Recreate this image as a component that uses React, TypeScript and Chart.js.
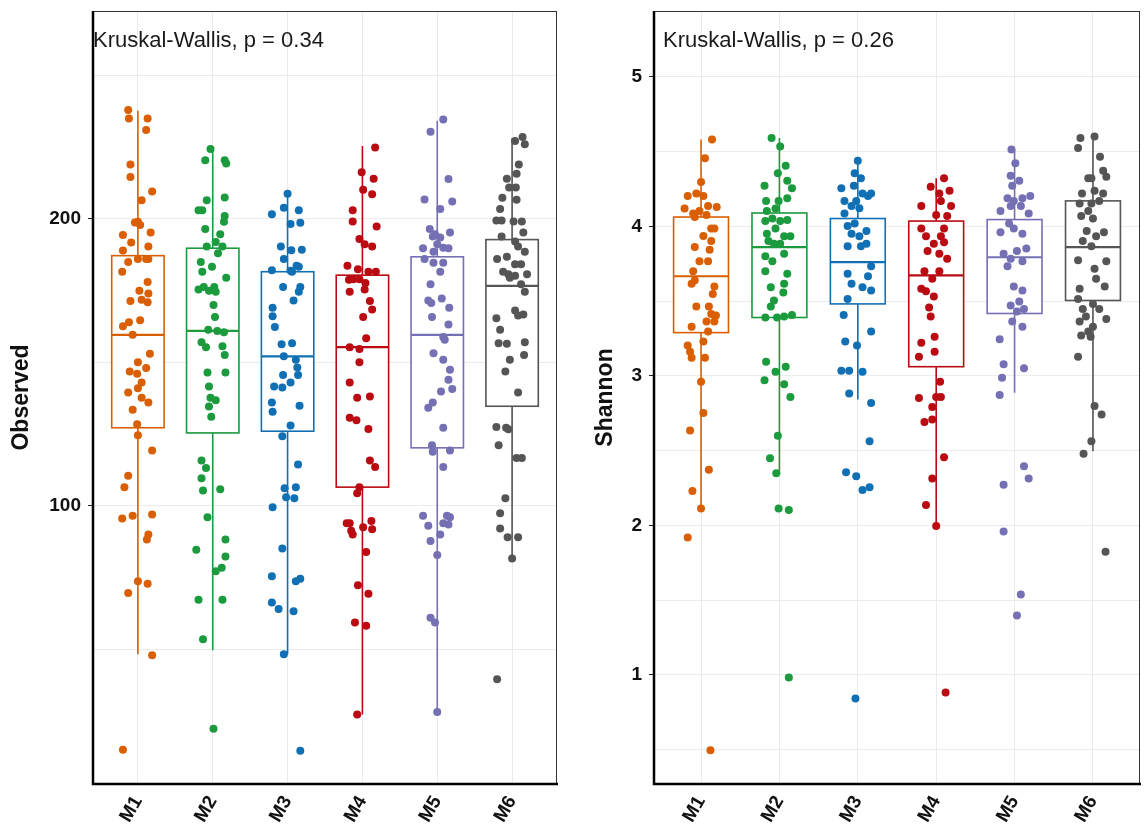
import React, { useEffect, useRef } from 'react';
import { Chart, registerables } from 'chart.js';

Chart.register(...registerables);

// ---------------- shared ----------------
const CATEGORIES = ['M1', 'M2', 'M3', 'M4', 'M5', 'M6'];
const COLORS = ['#D95F02', '#1B9A3E', '#1170B4', '#BA0A12', '#7570B3', '#555555'];

// ---------------- Observed panel ----------------
const OBS_TEST_LABEL = 'Kruskal-Wallis, p = 0.34';
const OBS_GRID_VALUES = [50, 100, 150, 200, 250];
const OBS_TICK_LABELS = [100, 200];

const OBS_M1 = [238, 235, 235, 231, 219, 214.6, 209.6, 206.5, 199, 198.8, 197.9, 194.4, 191.8, 195.3, 189, 190.4, 185, 181.6, 186, 186, 186, 178, 175, 171.4, 174, 171.8, 171, 162.6, 164, 164.7, 159.6, 153, 150, 146.8, 146, 148, 143, 139.5, 141, 137.7, 136, 133.5, 128.4, 124.6, 119.3, 110.5, 106.5, 95.6, 96.5, 97, 90, 88.2, 69.6, 73.7, 72.8, 47.9, 14.9];
const OBS_M1_JIT = [-0.13, -0.12, 0.13, 0.11, -0.10, -0.10, 0.19, 0.05, 0, -0.04, 0.03, -0.20, -0.09, 0.17, -0.20, 0.14, -0.13, -0.21, 0.11, 0.14, 0, 0.13, 0.02, -0.10, 0.14, 0.05, 0.13, -0.20, -0.12, 0.03, -0.07, 0.16, 0, -0.11, -0.01, 0.11, 0.05, -0.13, 0, 0.05, 0.14, -0.07, -0.01, 0, 0.19, -0.13, -0.18, -0.21, -0.07, 0.19, 0.14, 0.12, -0.13, 0, 0.13, 0.19, -0.20];
const OBS_M2 = [224.4, 220.5, 220.5, 219.3, 206.5, 207.5, 203, 203, 201, 199, 196.5, 194.7, 192, 190.4, 188, 190.4, 185, 183.3, 179.5, 181.6, 176.3, 175.4, 175, 176.3, 174.6, 170, 165.8, 161.4, 160.9, 160.5, 157, 155.3, 155.6, 152.6, 146.5, 146.5, 141.6, 137.7, 136.8, 134.6, 131, 115.8, 113.2, 109.6, 105.3, 105.8, 96, 88.2, 84.7, 82.3, 77.2, 78.4, 67.2, 67.2, 53.5, 22.3];
const OBS_M2_JIT = [-0.03, 0.16, -0.10, 0.18, -0.08, 0.16, -0.19, -0.14, 0.16, 0.15, -0.10, 0.10, 0.04, 0.13, 0.07, -0.08, -0.16, -0.01, 0.18, -0.14, -0.12, -0.19, -0.05, 0.02, 0.04, 0.01, 0.03, -0.06, 0.06, 0.15, -0.15, -0.09, 0.13, 0.16, -0.07, 0.17, -0.05, -0.03, 0.04, -0.05, -0.02, -0.15, -0.09, -0.15, -0.13, 0.10, -0.07, 0.17, -0.22, 0.17, 0.04, 0.12, -0.19, 0.13, -0.13, 0.01];
const OBS_M3 = [208.8, 203.9, 203, 201.6, 198.2, 198.7, 190.4, 189.1, 189.3, 186, 183.7, 181.6, 183.3, 182.1, 181.9, 176.3, 176.3, 174.6, 171.6, 169, 166.1, 162.3, 156.3, 156.7, 152.1, 150.9, 148.2, 145.6, 145.6, 141.6, 141.2, 143, 136, 132.8, 134.9, 128, 124.2, 114.4, 106.1, 106.5, 103, 102.6, 99.5, 85.1, 75.4, 74.6, 73.7, 66.3, 64, 63.2, 48.2, 14.6];
const OBS_M3_JIT = [0, -0.05, 0.15, -0.21, 0.04, 0.17, -0.09, 0.05, 0.19, -0.05, 0.12, 0.06, 0.15, -0.21, 0.04, -0.06, 0.17, 0.15, 0.08, -0.20, -0.20, -0.17, -0.08, 0.06, -0.05, 0.11, 0.13, 0.14, -0.06, -0.18, -0.07, 0.04, -0.21, -0.20, 0.16, 0.04, -0.07, 0.14, -0.04, 0.11, -0.02, 0.09, -0.20, -0.07, -0.21, 0.17, 0.11, -0.21, -0.12, 0.08, -0.05, 0.17];
const OBS_M4 = [224.9, 216.3, 214, 210.2, 208.6, 203, 199.1, 197.4, 193, 191.2, 190.4, 183.7, 182.5, 181.6, 181.6, 178.8, 179, 179, 177.7, 174.6, 175.4, 171.4, 168.4, 165.8, 158.4, 155.3, 154.7, 150, 143, 137.7, 138.1, 130.7, 129.8, 126.8, 115.8, 113.5, 106.5, 104.4, 93.9, 92.5, 91.8, 93.9, 91.3, 90, 94.7, 83.9, 72.3, 69.3, 59.3, 58.2, 27.2];
const OBS_M4_JIT = [0.17, -0.01, 0.15, 0.01, 0.13, -0.13, -0.13, 0.19, -0.04, 0.03, 0.13, -0.20, -0.06, 0.08, 0.18, -0.18, -0.12, -0.04, 0.04, -0.17, 0.03, 0.10, 0.13, 0.01, 0.05, -0.17, -0.04, -0.04, -0.17, -0.07, 0.10, -0.17, -0.08, 0.08, 0.10, 0.17, -0.04, -0.07, -0.17, 0.01, 0.13, -0.21, -0.15, -0.13, 0.12, 0.05, -0.06, 0.08, -0.10, 0.05, -0.07];
const OBS_M5 = [234.7, 230.4, 213.9, 206.8, 206.1, 203.5, 196.5, 194.7, 193.9, 195.3, 193.5, 191.2, 189.8, 190, 189.8, 188.6, 186, 184.7, 184.7, 181.6, 177.2, 171.6, 172.3, 170.7, 169, 165.8, 163.2, 158.8, 157.9, 153.2, 150.9, 147.4, 143.9, 140.7, 139.8, 136, 134.2, 127.2, 121.1, 118.8, 119.3, 113.5, 96.5, 96.5, 96, 93, 93.9, 93.5, 90, 87.7, 82.8, 61, 59.3, 28.1];
const OBS_M5_JIT = [0.08, -0.09, 0.15, -0.17, 0.20, 0.04, -0.10, -0.03, -0.06, 0.17, 0.04, 0, -0.19, 0.08, 0.15, -0.05, -0.17, -0.05, 0.08, 0.04, -0.09, -0.12, 0.06, -0.08, 0.16, -0.07, 0.15, 0.08, 0.10, -0.05, 0.08, 0.17, 0.15, 0.20, 0.05, -0.06, -0.12, 0.08, -0.07, -0.06, 0.17, 0.08, -0.19, 0.13, 0.17, -0.12, 0.08, 0.15, 0.04, -0.09, 0, -0.09, -0.03, 0];
const OBS_M6 = [227.2, 228.6, 226, 219, 215.8, 214, 211, 211, 207.4, 206.7, 203.5, 199.5, 199.5, 199.1, 199.1, 193.9, 192.1, 195.3, 190.4, 188.6, 186, 186.8, 181.6, 184.2, 184.2, 180.7, 180.2, 179.5, 180.7, 177.2, 174.6, 165.4, 161.4, 168.1, 166.3, 166.7, 156.7, 156.5, 157, 152.6, 150.9, 146.8, 139.5, 127.5, 127.2, 121.1, 126.7, 116.7, 116.7, 102.6, 97.4, 92.1, 89, 89, 81.6, 39.5];
const OBS_M6_JIT = [0.04, 0.14, 0.17, 0.09, 0.06, -0.07, -0.04, 0.05, -0.13, 0.06, -0.16, -0.21, -0.14, 0.02, 0.13, -0.14, 0.04, 0.15, 0.08, 0.17, -0.20, -0.07, -0.12, 0.04, 0.12, -0.05, 0.04, -0.03, 0.20, 0.12, 0.17, -0.21, -0.16, 0.04, 0.08, 0.15, -0.18, -0.07, 0.17, 0.16, -0.03, -0.09, 0.08, -0.21, -0.08, -0.18, -0.05, 0.06, 0.13, -0.09, -0.16, -0.16, -0.06, 0.08, 0, -0.20];

// box statistics (whisker low, Q1, median, Q3, whisker high) per category
const OBS_WHISKER_LOW = [48.2, 49.6, 48.2, 27.2, 28.1, 81.6];
const OBS_Q1 = [127.2, 125.4, 126, 106.5, 120.2, 134.7];
const OBS_MEDIAN = [159.6, 161, 152.1, 155.3, 159.6, 176.7];
const OBS_Q3 = [187.2, 189.8, 181.6, 180.4, 186.8, 192.8];
const OBS_WHISKER_HIGH = [237.7, 223.7, 208.8, 225.4, 234.2, 228.1];

// ---------------- Shannon panel ----------------
const SHA_TEST_LABEL = 'Kruskal-Wallis, p = 0.26';
const SHA_GRID_VALUES = [0.5, 1, 1.5, 2, 2.5, 3, 3.5, 4, 4.5, 5];
const SHA_TICK_LABELS = [1, 2, 3, 4, 5];

const SHA_M1 = [4.58, 4.455, 4.297, 4.203, 4.22, 4.203, 4.119, 4.086, 4.103, 4.136, 4.129, 4.062, 4.076, 3.985, 3.985, 3.935, 3.901, 3.861, 3.844, 3.766, 3.766, 3.699, 3.639, 3.615, 3.598, 3.548, 3.464, 3.464, 3.413, 3.403, 3.329, 3.363, 3.363, 3.296, 3.229, 3.202, 3.161, 3.121, 3.121, 2.96, 2.751, 2.634, 2.371, 2.23, 2.113, 1.918, 0.496];
const SHA_M1_JIT = [0.14, 0.05, 0, -0.17, -0.06, 0.03, -0.21, -0.10, -0.02, 0.09, 0.20, -0.08, 0.07, 0.13, 0.17, 0.03, 0.13, -0.08, 0.11, -0.02, 0.09, -0.10, -0.08, -0.12, 0.17, 0.15, -0.06, 0.10, 0.13, 0.19, -0.12, 0.07, 0.17, 0.09, 0.03, -0.17, -0.14, -0.12, 0.05, 0, 0.03, -0.14, 0.10, -0.11, 0, -0.17, 0.12];
const SHA_M2 = [4.59, 4.533, 4.405, 4.355, 4.271, 4.304, 4.254, 4.17, 4.17, 4.187, 4.103, 4.119, 4.035, 4.052, 4.035, 4.042, 3.985, 3.951, 3.934, 3.934, 3.901, 3.884, 3.884, 3.8, 3.766, 3.817, 3.699, 3.682, 3.615, 3.592, 3.558, 3.504, 3.464, 3.39, 3.39, 3.397, 3.407, 3.094, 3.027, 3.061, 2.97, 2.943, 2.859, 2.6, 2.449, 2.348, 2.113, 2.103, 0.983];
const SHA_M2_JIT = [-0.10, 0.01, 0.08, -0.02, -0.19, 0.10, 0.16, -0.17, -0.01, 0.10, -0.16, -0.05, -0.18, -0.09, 0.01, 0.10, -0.05, -0.16, 0.06, 0.14, -0.14, -0.07, 0.01, -0.18, -0.09, 0.06, -0.18, 0.10, 0.06, -0.11, 0.05, -0.07, -0.11, -0.18, -0.03, 0.06, 0.16, -0.17, -0.05, 0.08, -0.19, 0.06, 0.14, -0.02, -0.12, -0.04, -0.01, 0.12, 0.12];
const SHA_M3 = [4.439, 4.355, 4.321, 4.254, 4.271, 4.22, 4.22, 4.17, 4.17, 4.203, 4.136, 4.086, 4.12, 4.018, 4.002, 3.968, 3.934, 3.951, 3.867, 3.867, 3.884, 3.733, 3.682, 3.666, 3.615, 3.592, 3.571, 3.514, 3.407, 3.296, 3.229, 3.202, 3.034, 3.034, 3.027, 2.882, 2.818, 2.563, 2.355, 2.328, 2.237, 2.254, 0.842];
const SHA_M3_JIT = [0, -0.04, 0.04, -0.21, -0.05, 0.06, 0.17, -0.17, -0.02, 0.13, -0.08, -0.17, 0.02, -0.04, -0.13, 0.11, 0.02, -0.08, -0.13, 0.04, 0.11, 0.17, -0.13, 0.13, -0.08, 0.06, 0.17, -0.13, -0.18, 0.17, -0.16, -0.01, -0.21, -0.11, 0.06, -0.11, 0.17, 0.15, -0.15, -0.02, 0.06, 0.15, -0.03];
const SHA_M4 = [4.321, 4.264, 4.22, 4.237, 4.17, 4.136, 4.136, 4.076, 4.069, 3.985, 3.985, 3.934, 3.934, 3.884, 3.894, 3.834, 3.817, 3.783, 3.699, 3.699, 3.649, 3.582, 3.565, 3.531, 3.457, 3.397, 3.222, 3.128, 3.262, 3.161, 2.96, 2.859, 2.859, 2.852, 2.792, 2.708, 2.691, 2.455, 2.314, 2.136, 1.995, 0.882];
const SHA_M4_JIT = [0.10, -0.07, 0.04, 0.17, 0.06, 0.19, -0.19, 0, 0.14, -0.19, 0.10, -0.13, 0.06, -0.03, 0.10, -0.11, 0.04, 0.14, 0.04, -0.15, -0.05, -0.19, -0.13, -0.03, -0.09, -0.07, -0.19, -0.22, -0.02, -0.02, 0.05, 0, 0.06, -0.22, -0.05, -0.05, -0.15, 0.10, -0.05, -0.13, 0, 0.12];
const SHA_M5 = [4.513, 4.422, 4.338, 4.304, 4.271, 4.187, 4.187, 4.17, 4.203, 4.103, 4.136, 4.136, 4.086, 4.018, 3.985, 3.951, 3.961, 3.851, 3.817, 3.783, 3.834, 3.766, 3.733, 3.598, 3.571, 3.497, 3.47, 3.43, 3.447, 3.363, 3.329, 3.245, 3.077, 3.05, 2.987, 2.872, 2.395, 2.271, 2.314, 1.958, 1.538, 1.397];
const SHA_M5_JIT = [-0.04, 0.01, -0.05, 0.06, -0.03, -0.09, 0.10, -0.01, 0.20, -0.18, -0.05, 0.08, 0.18, -0.07, -0.01, 0.10, -0.18, 0.15, -0.14, -0.05, 0.03, 0.10, -0.09, -0.01, 0.10, 0.06, -0.05, 0.03, 0.12, -0.03, 0.10, -0.19, -0.14, 0.12, -0.16, -0.19, 0.12, -0.14, 0.18, -0.14, 0.08, 0.03];
const SHA_M6 = [4.59, 4.6, 4.523, 4.466, 4.321, 4.372, 4.331, 4.321, 4.22, 4.237, 4.22, 4.153, 4.153, 4.17, 4.103, 4.069, 4.052, 3.968, 3.961, 3.901, 3.934, 3.867, 3.773, 3.766, 3.716, 3.649, 3.598, 3.582, 3.514, 3.447, 3.397, 3.481, 3.363, 3.296, 3.447, 3.38, 3.329, 3.269, 3.262, 3.128, 2.798, 2.741, 2.563, 2.479, 1.824];
const SHA_M6_JIT = [-0.16, 0.02, -0.19, 0.09, -0.06, 0.13, 0.17, -0.02, -0.14, 0.02, 0.13, -0.17, -0.02, 0.08, -0.06, -0.15, 0, -0.08, 0.14, -0.13, 0.04, -0.02, -0.19, 0.17, 0.02, 0.04, 0.15, -0.17, -0.19, -0.13, -0.09, 0, -0.17, -0.06, 0.08, 0.17, 0, -0.15, -0.03, -0.19, 0.02, 0.11, -0.02, -0.12, 0.16];

const SHA_WHISKER_LOW = [2.113, 2.338, 2.842, 1.995, 2.886, 2.496];
const SHA_Q1 = [3.289, 3.39, 3.481, 3.061, 3.417, 3.504];
const SHA_MEDIAN = [3.666, 3.861, 3.76, 3.672, 3.793, 3.861];
const SHA_Q3 = [4.062, 4.089, 4.052, 4.035, 4.045, 4.17];
const SHA_WHISKER_HIGH = [4.58, 4.59, 4.439, 4.321, 4.513, 4.6];

// ---------------- plugins ----------------
const FONT = '"Liberation Sans", Arial, Helvetica, sans-serif';

const boxPlotPlugin = {
  id: 'boxplot',
  beforeDatasetsDraw(chart: any, _args: any, opts: any) {
    const { ctx, chartArea, scales } = chart;
    const x = scales.x;
    const y = scales.y;
    ctx.save();
    ctx.beginPath();
    ctx.rect(chartArea.left, chartArea.top, chartArea.width, chartArea.height);
    ctx.clip();
    const half = opts.boxWidth / 2;
    for (let i = 0; i < CATEGORIES.length; i++) {
      const cx = x.getPixelForValue(i + 1);
      const xl = x.getPixelForValue(i + 1 - half);
      const xr = x.getPixelForValue(i + 1 + half);
      const pLo = y.getPixelForValue(opts.low[i]);
      const pQ1 = y.getPixelForValue(opts.q1[i]);
      const pMed = y.getPixelForValue(opts.median[i]);
      const pQ3 = y.getPixelForValue(opts.q3[i]);
      const pHi = y.getPixelForValue(opts.high[i]);
      ctx.strokeStyle = COLORS[i];
      ctx.lineWidth = 1.6;
      ctx.beginPath();
      ctx.moveTo(cx, pHi);
      ctx.lineTo(cx, pQ3);
      ctx.moveTo(cx, pQ1);
      ctx.lineTo(cx, pLo);
      ctx.stroke();
      ctx.fillStyle = '#ffffff';
      ctx.fillRect(xl, pQ3, xr - xl, pQ1 - pQ3);
      ctx.strokeRect(xl, pQ3, xr - xl, pQ1 - pQ3);
      ctx.lineWidth = 2.2;
      ctx.beginPath();
      ctx.moveTo(xl, pMed);
      ctx.lineTo(xr, pMed);
      ctx.stroke();
    }
    ctx.restore();
  },
};

const framePlugin = {
  id: 'frame',
  afterDraw(chart: any, _args: any, opts: any) {
    const { ctx, chartArea } = chart;
    const { left, top, right, bottom } = chartArea;
    ctx.save();
    ctx.strokeStyle = '#333333';
    ctx.lineWidth = 1;
    ctx.strokeRect(left + 0.5, top + 0.5, right - left - 1, bottom - top - 1);
    ctx.strokeStyle = '#000000';
    ctx.lineWidth = 2.5;
    ctx.beginPath();
    ctx.moveTo(left, top);
    ctx.lineTo(left, bottom);
    ctx.lineTo(right + 1, bottom);
    ctx.stroke();
    ctx.fillStyle = '#1a1a1a';
    ctx.font = `22px ${FONT}`;
    ctx.textBaseline = 'middle';
    ctx.textAlign = 'left';
    ctx.fillText(opts.text, left + opts.textOffset, opts.textY);
    ctx.restore();
  },
};

type PanelSpec = {
  values: number[][];
  jitter: number[][];
  low: number[];
  q1: number[];
  median: number[];
  q3: number[];
  high: number[];
  yMin: number;
  yMax: number;
  grid: number[];
  labels: number[];
  title: string;
  testLabel: string;
  textOffset: number;
  yWidth: number;
  titlePad: number;
  padRight: number;
};

function buildConfig(p: PanelSpec): any {
  const datasets = p.values.map((vals, i) => ({
    type: 'scatter',
    label: CATEGORIES[i],
    data: vals.map((v, k) => ({ x: i + 1 + (p.jitter[i][k] ?? 0), y: v })),
    backgroundColor: COLORS[i],
    borderColor: COLORS[i],
    borderWidth: 0,
    pointRadius: 4,
    pointHoverRadius: 4,
  }));
  return {
    type: 'scatter',
    data: { datasets },
    plugins: [boxPlotPlugin, framePlugin],
    options: {
      animation: false,
      responsive: false,
      maintainAspectRatio: false,
      devicePixelRatio: 1,
      events: [],
      layout: { padding: { top: 11, right: p.padRight, bottom: 0, left: 0 } },
      plugins: {
        legend: { display: false },
        tooltip: { enabled: false },
        boxplot: { boxWidth: 0.7, low: p.low, q1: p.q1, median: p.median, q3: p.q3, high: p.high },
        frame: { text: p.testLabel, textOffset: p.textOffset, textY: 41 },
      },
      scales: {
        x: {
          type: 'linear',
          min: 0.4,
          max: 6.6,
          afterBuildTicks: (s: any) => {
            s.ticks = CATEGORIES.map((_, i) => ({ value: i + 1 }));
          },
          afterFit: (s: any) => {
            s.height = 55;
            s.paddingLeft = 0;
            s.paddingRight = 0;
          },
          border: { display: false },
          grid: { color: '#EBEBEB', lineWidth: 1, tickLength: 6, tickColor: 'rgba(0,0,0,0)' },
          ticks: {
            autoSkip: false,
            minRotation: 60,
            maxRotation: 60,
            padding: 2,
            color: '#111111',
            font: { family: FONT, size: 19, weight: 'bold' },
            callback: (v: number) => CATEGORIES[Math.round(v) - 1] ?? '',
          },
        },
        y: {
          type: 'linear',
          min: p.yMin,
          max: p.yMax,
          afterBuildTicks: (s: any) => {
            s.ticks = p.grid.map((v) => ({ value: v }));
          },
          afterFit: (s: any) => {
            s.width = p.yWidth;
            s.paddingTop = 0;
            s.paddingBottom = 0;
          },
          border: { display: false },
          grid: {
            color: '#EBEBEB',
            lineWidth: 1,
            tickLength: 5,
            tickColor: (c: any) => (c.tick && p.labels.includes(c.tick.value) ? '#222222' : 'rgba(0,0,0,0)'),
          },
          ticks: {
            padding: 7,
            color: '#111111',
            font: { family: FONT, size: 19, weight: 'bold' },
            callback: (v: number) => (p.labels.includes(v) ? String(v) : ''),
          },
          title: {
            display: true,
            text: p.title,
            color: '#111111',
            font: { family: FONT, size: 23, weight: 'bold' },
            padding: { top: p.titlePad, bottom: 0 },
          },
        },
      },
    },
  };
}

const OBS_PANEL: PanelSpec = {
  values: [OBS_M1, OBS_M2, OBS_M3, OBS_M4, OBS_M5, OBS_M6],
  jitter: [OBS_M1_JIT, OBS_M2_JIT, OBS_M3_JIT, OBS_M4_JIT, OBS_M5_JIT, OBS_M6_JIT],
  low: OBS_WHISKER_LOW,
  q1: OBS_Q1,
  median: OBS_MEDIAN,
  q3: OBS_Q3,
  high: OBS_WHISKER_HIGH,
  yMin: 3,
  yMax: 272.5,
  grid: OBS_GRID_VALUES,
  labels: OBS_TICK_LABELS,
  title: 'Observed',
  testLabel: OBS_TEST_LABEL,
  textOffset: 0,
  yWidth: 93,
  titlePad: 8.2,
  padRight: 18,
};

const SHA_PANEL: PanelSpec = {
  values: [SHA_M1, SHA_M2, SHA_M3, SHA_M4, SHA_M5, SHA_M6],
  jitter: [SHA_M1_JIT, SHA_M2_JIT, SHA_M3_JIT, SHA_M4_JIT, SHA_M5_JIT, SHA_M6_JIT],
  low: SHA_WHISKER_LOW,
  q1: SHA_Q1,
  median: SHA_MEDIAN,
  q3: SHA_Q3,
  high: SHA_WHISKER_HIGH,
  yMin: 0.27,
  yMax: 5.44,
  grid: SHA_GRID_VALUES,
  labels: SHA_TICK_LABELS,
  title: 'Shannon',
  testLabel: SHA_TEST_LABEL,
  textOffset: 9,
  yWidth: 79,
  titlePad: 16.7,
  padRight: 4,
};

function Panel({ spec, left, width }: { spec: PanelSpec; left: number; width: number }) {
  const ref = useRef<HTMLCanvasElement | null>(null);
  useEffect(() => {
    if (!ref.current) return;
    const chart = new Chart(ref.current, buildConfig(spec));
    return () => chart.destroy();
  }, [spec]);
  return (
    <canvas
      ref={ref}
      width={width}
      height={839}
      style={{ position: 'absolute', left, top: 0, width, height: 839, display: 'block' }}
    />
  );
}

export default function App() {
  return (
    <div style={{ position: 'absolute', left: 0, top: 0, width: 1144, height: 839, background: '#ffffff', overflow: 'hidden' }}>
      <Panel spec={OBS_PANEL} left={0} width={575} />
      <Panel spec={SHA_PANEL} left={575} width={569} />
    </div>
  );
}
